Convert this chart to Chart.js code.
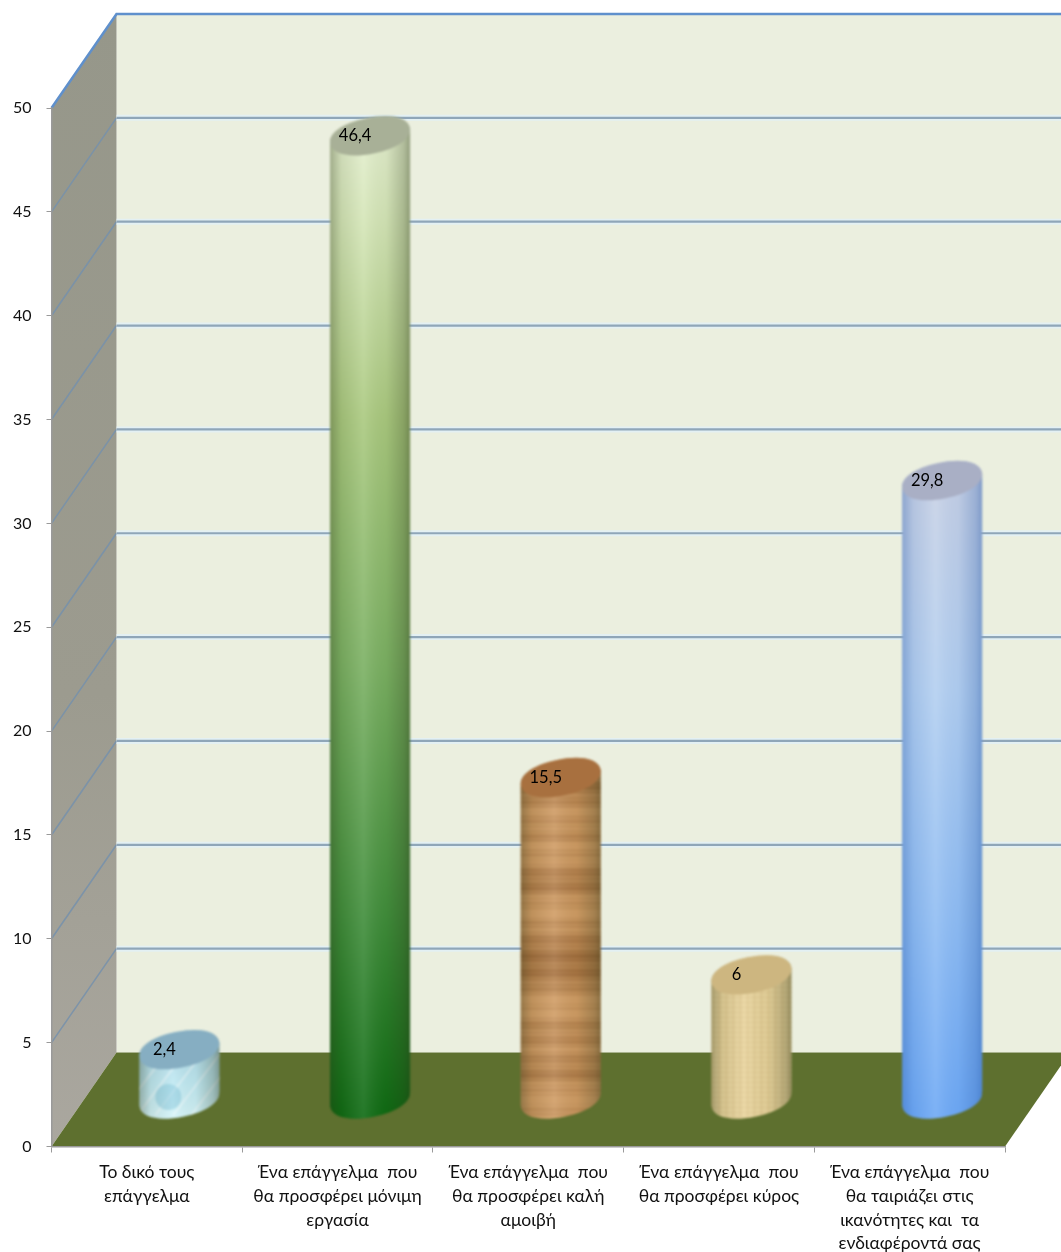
<!DOCTYPE html>
<html>
<head>
<meta charset="utf-8">
<title>Επάγγελμα</title>
<script src="https://cdn.jsdelivr.net/npm/chart.js@4"></script>
<style>
  html, body { margin: 0; padding: 0; background: #fff; }
  canvas { display: block; }
</style>
</head>
<body>
<canvas id="myChart" width="1061" height="1252"></canvas>
<script>
var categories = [
  ['Το δικό τους', 'επάγγελμα'],
  ['Ένα επάγγελμα  που', 'θα προσφέρει μόνιμη', 'εργασία'],
  ['Ένα επάγγελμα  που', 'θα προσφέρει καλή', 'αμοιβή'],
  ['Ένα επάγγελμα  που', 'θα προσφέρει κύρος'],
  ['Ένα επάγγελμα  που', 'θα ταιριάζει στις', 'ικανότητες και  τα', 'ενδιαφέροντά σας']
];
var values = [2.4, 46.4, 15.5, 6, 29.8];
var yMin = 0;
var yMax = 50;
var yStep = 5;

// depth of the fake 3d box
var depthX = 65;
var depthY = 94;
var fontName = 'Lato, "Open Sans", sans-serif';

// colours of the top of each cylinder
var topColors = ['#86aec2', '#a8b097', '#a8703f', '#cdb680', '#a9afc5'];

// tilted oval
function ovalPath(ctx, x, y, a, b) {
  var k = 0.6;
  var rot = -11.5 * Math.PI / 180;
  var c = Math.cos(rot);
  var s = Math.sin(rot);
  function px(u, v) { return x + u * c - v * s; }
  function py(u, v) { return y + u * s + v * c; }
  function curve(u1, v1, u2, v2, u3, v3) {
    ctx.bezierCurveTo(px(u1, v1), py(u1, v1), px(u2, v2), py(u2, v2), px(u3, v3), py(u3, v3));
  }
  ctx.moveTo(px(a, 0), py(a, 0));
  curve(a, k * b, k * a, b, 0, b);
  curve(-k * a, b, -a, k * b, -a, 0);
  curve(-a, -k * b, -k * a, -b, 0, -b);
  curve(k * a, -b, a, -k * b, a, 0);
  ctx.closePath();
}

function cylinderPath(ctx, x, top, bottom, w) {
  var dy = 7;
  var left = x - w / 2;
  var right = x + w / 2;
  ctx.beginPath();
  ovalPath(ctx, x, bottom, w / 2 + 0.5, 18);
  ctx.moveTo(left, top + dy);
  ctx.lineTo(x, top);
  ctx.lineTo(right, top - dy);
  ctx.lineTo(right, bottom - dy);
  ctx.lineTo(x, bottom);
  ctx.lineTo(left, bottom + dy);
  ctx.closePath();
  ovalPath(ctx, x, top, w / 2 + 0.5, 18);
}

function vertical(ctx, top, bottom, stops) {
  var g = ctx.createLinearGradient(0, top - 18, 0, bottom + 18);
  for (var i = 0; i < stops.length; i++) {
    g.addColorStop(stops[i][0], stops[i][1]);
  }
  return g;
}

function paintBody(ctx, i, x, top, bottom, w) {
  var left = x - w / 2;
  var y;
  if (i == 0) {
    ctx.fillStyle = vertical(ctx, top, bottom, [[0, '#a9d3e2'], [0.6, '#bfe8f2'], [1, '#d3f3f8']]);
    ctx.fillRect(left - 2, top - 20, w + 4, bottom - top + 40);
    ctx.strokeStyle = 'rgba(255,255,255,0.4)';
    ctx.lineWidth = 2;
    for (var k = 0; k < 6; k++) {
      ctx.beginPath();
      ctx.moveTo(left + k * 18 - 20, bottom + 16);
      ctx.lineTo(left + k * 18 + 30, top);
      ctx.stroke();
    }
    ctx.fillStyle = 'rgba(110,185,210,0.4)';
    ctx.beginPath();
    ctx.arc(x - 11, bottom - 2, 13, 0, Math.PI * 2);
    ctx.fill();
  } else if (i == 1) {
    ctx.fillStyle = vertical(ctx, top, bottom, [[0, '#e6f0d2'], [0.1, '#d5e6b8'], [0.3, '#aac97f'],
      [0.55, '#7ab062'], [0.8, '#3f8d3a'], [1, '#0d6a12']]);
    ctx.fillRect(left - 2, top - 20, w + 4, bottom - top + 40);
  } else if (i == 2) {
    ctx.fillStyle = '#d09c64';
    ctx.fillRect(left - 2, top - 20, w + 4, bottom - top + 40);
    // wood rings
    for (y = top - 18; y < bottom + 18; y += 2) {
      var s = Math.sin(y * 0.37) + Math.sin(y * 1.31 + 1) + Math.sin(y * 0.13) + Math.sin(y * 0.071 + 2);
      var mid = (y - top) / (bottom - top);
      var dark = Math.exp(-Math.pow((mid - 0.55) / 0.05, 2)) * 0.3;
      ctx.fillStyle = 'rgba(110,58,16,' + Math.max(0, 0.12 + s * 0.09 + dark).toFixed(3) + ')';
      ctx.fillRect(left - 2, y, w + 4, 2);
    }
  } else if (i == 3) {
    ctx.fillStyle = '#e9d49d';
    ctx.fillRect(left - 2, top - 20, w + 4, bottom - top + 40);
    ctx.fillStyle = 'rgba(170,130,70,0.12)';
    for (y = top - 18; y < bottom + 18; y += 5) {
      ctx.fillRect(left - 2, y, w + 4, 1);
    }
    for (var c = left; c < left + w; c += 7) {
      ctx.fillRect(c, top - 18, 2, bottom - top + 36);
    }
  } else {
    ctx.fillStyle = vertical(ctx, top, bottom, [[0, '#c9d1e4'], [0.35, '#b3cff0'], [0.7, '#90bdf3'], [1, '#6ea9f5']]);
    ctx.fillRect(left - 2, top - 20, w + 4, bottom - top + 40);
  }
  // round shading, dark at the sides
  var shade = ctx.createLinearGradient(left, 0, left + w, 0);
  var edge = i == 4 ? '30,80,160' : '40,50,20';
  shade.addColorStop(0, 'rgba(' + edge + ',0.34)');
  shade.addColorStop(0.14, 'rgba(' + edge + ',0.1)');
  shade.addColorStop(0.42, 'rgba(255,255,255,0.1)');
  shade.addColorStop(0.7, 'rgba(' + edge + ',0.05)');
  shade.addColorStop(0.92, 'rgba(' + edge + ',0.26)');
  shade.addColorStop(1, 'rgba(' + edge + ',0.42)');
  ctx.fillStyle = shade;
  ctx.fillRect(left - 2, top - 20, w + 4, bottom - top + 40);
}

var boxPlugin = {
  id: 'box3d',
  beforeDraw: function (chart) {
    var ctx = chart.ctx;
    var y = chart.scales.y;
    var left = chart.chartArea.left;
    var right = chart.chartArea.right;
    var y0 = y.getPixelForValue(yMin);
    var yTop = y.getPixelForValue(yMax);
    var w = chart.width;

    ctx.save();
    // back wall
    ctx.fillStyle = '#ebefdf';
    ctx.fillRect(left + depthX, yTop - depthY, w, y0 - yTop);

    // side wall
    var side = ctx.createLinearGradient(0, yTop - depthY, 0, y0);
    side.addColorStop(0, '#96978a');
    side.addColorStop(0.6, '#9c9b8f');
    side.addColorStop(1, '#aaa79f');
    ctx.fillStyle = side;
    ctx.beginPath();
    ctx.moveTo(left, yTop);
    ctx.lineTo(left + depthX, yTop - depthY);
    ctx.lineTo(left + depthX, y0 - depthY);
    ctx.lineTo(left, y0);
    ctx.closePath();
    ctx.fill();

    // floor
    ctx.fillStyle = '#5e702f';
    ctx.beginPath();
    ctx.moveTo(left, y0);
    ctx.lineTo(left + depthX, y0 - depthY);
    ctx.lineTo(right + depthX, y0 - depthY);
    ctx.lineTo(right, y0);
    ctx.closePath();
    ctx.fill();

    // grid lines, from the scale ticks
    for (var i = 0; i < y.ticks.length; i++) {
      var v = y.ticks[i].value;
      var py = y.getPixelForValue(v);
      if (v == yMin) continue;
      if (v == yMax) {
        ctx.strokeStyle = '#5f90cc';
        ctx.lineWidth = 2.5;
        ctx.beginPath();
        ctx.moveTo(left, py);
        ctx.lineTo(left + depthX, py - depthY);
        ctx.lineTo(w, py - depthY);
        ctx.stroke();
        continue;
      }
      // side wall part
      ctx.strokeStyle = 'rgba(118,145,172,0.85)';
      ctx.lineWidth = 1.6;
      ctx.beginPath();
      ctx.moveTo(left, py);
      ctx.lineTo(left + depthX, py - depthY);
      ctx.stroke();
      // back wall part, with a pale glow
      ctx.strokeStyle = 'rgba(225,240,248,0.8)';
      ctx.lineWidth = 6;
      ctx.beginPath();
      ctx.moveTo(left + depthX, py - depthY);
      ctx.lineTo(w, py - depthY);
      ctx.stroke();
      ctx.strokeStyle = '#8fa6b8';
      ctx.lineWidth = 2.2;
      ctx.beginPath();
      ctx.moveTo(left + depthX, py - depthY);
      ctx.lineTo(w, py - depthY);
      ctx.stroke();
    }
    ctx.restore();
  },
  afterDatasetsDraw: function (chart) {
    var ctx = chart.ctx;
    var bars = chart.getDatasetMeta(0).data;

    // cylinders go on a spare canvas first so their edges can be softened
    var spare = document.createElement('canvas');
    spare.width = chart.width;
    spare.height = chart.height;
    var sctx = spare.getContext('2d');

    for (var i = 0; i < bars.length; i++) {
      var b = bars[i];
      var x = b.x + depthX / 2;
      var top = b.y - depthY / 2;
      var bottom = b.base - depthY / 2;
      var w = b.width;

      sctx.save();
      cylinderPath(sctx, x, top, bottom, w);
      sctx.clip();
      paintBody(sctx, i, x, top, bottom, w);
      sctx.restore();

      sctx.fillStyle = topColors[i];
      sctx.beginPath();
      ovalPath(sctx, x, top, w / 2 + 0.5, 18);
      sctx.fill();
    }

    ctx.save();
    ctx.filter = 'blur(0.8px)';
    ctx.drawImage(spare, 0, 0);
    ctx.restore();

    ctx.save();
    ctx.fillStyle = '#000';
    ctx.font = '16.5px ' + fontName;
    ctx.textAlign = 'center';
    ctx.textBaseline = 'middle';
    for (var n = 0; n < bars.length; n++) {
      ctx.fillText(String(values[n]).replace('.', ','), bars[n].x + depthX / 2 - 15, bars[n].y - depthY / 2);
    }
    ctx.restore();
  }
};

var myChart = new Chart(document.getElementById('myChart'), {
  type: 'bar',
  data: {
    labels: categories,
    datasets: [{
      data: values,
      backgroundColor: 'rgba(0,0,0,0)',
      categoryPercentage: 1,
      barPercentage: 0.42
    }]
  },
  plugins: [boxPlugin],
  options: {
    responsive: false,
    animation: false,
    layout: { padding: { top: 108, right: 56, left: 0, bottom: 0 } },
    plugins: { legend: { display: false }, title: { display: false }, tooltip: { enabled: false } },
    scales: {
      x: {
        afterFit: function (s) { s.height = 105.5; },
        border: { color: '#9a9a9a', width: 1.5 },
        grid: { drawOnChartArea: false, color: '#9a9a9a', tickLength: 6 },
        ticks: {
          color: '#111',
          padding: 8,
          autoSkip: false,
          maxRotation: 0,
          font: { family: fontName, size: 17.5, lineHeight: 1.36 }
        }
      },
      y: {
        min: yMin,
        max: yMax,
        afterFit: function (s) { s.width = 51.5; },
        border: { color: '#9a9a9a', width: 1.5 },
        grid: { drawOnChartArea: false, color: '#9a9a9a', tickLength: 5 },
        ticks: {
          stepSize: yStep,
          color: '#111',
          padding: 15,
          font: { family: fontName, size: 16 }
        }
      }
    }
  }
});
</script>
</body>
</html>
